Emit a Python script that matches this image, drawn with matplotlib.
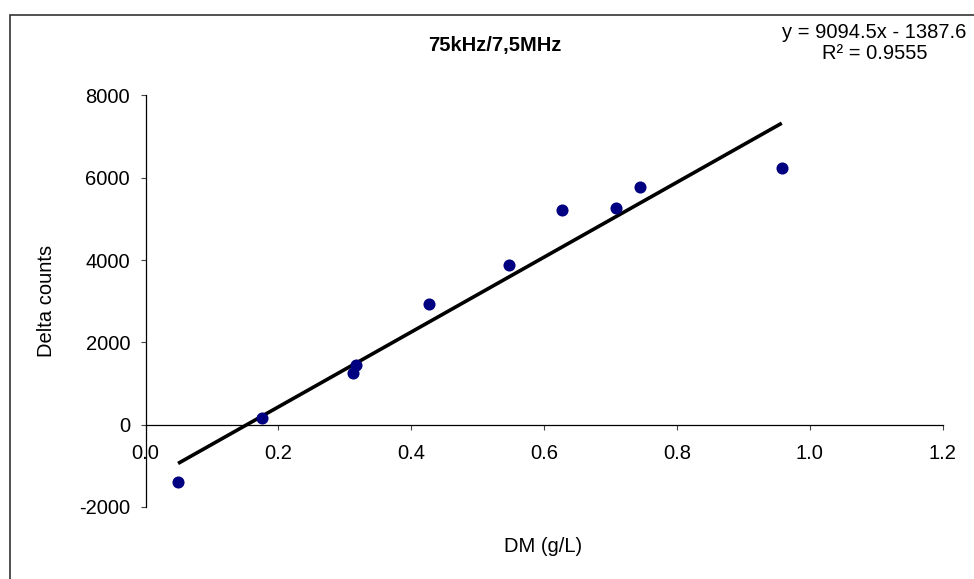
import matplotlib
matplotlib.use("Agg")
import matplotlib.pyplot as plt
from matplotlib.patches import Rectangle
from matplotlib.ticker import FixedLocator, FuncFormatter
import numpy as np

plt.rcParams['font.family'] = ['Liberation Sans', 'DejaVu Sans']
plt.rcParams['axes.unicode_minus'] = False

# Measurements: dry matter vs. change in counts
dm = [0.049, 0.176, 0.313, 0.317, 0.427, 0.547, 0.627, 0.709, 0.744, 0.958]
delta_counts = [-1400, 160, 1250, 1440, 2940, 3880, 5220, 5260, 5780, 6240]

# Linear trendline reported on the chart
slope = 9094.5
intercept = -1387.6
r_squared = 0.9555

x_ticks = [0.0, 0.2, 0.4, 0.6, 0.8, 1.0, 1.2]
y_ticks = [-2000, 0, 2000, 4000, 6000, 8000]

title = "75kHz/7,5MHz"
x_label = "DM (g/L)"
y_label = "Delta counts"

W, H = 974, 579
fig = plt.figure(figsize=(W / 100, H / 100), dpi=100)
fig.patch.set_facecolor("white")

# outer chart border (runs off the right and bottom edges)
fig.add_artist(Rectangle((10 / W, -0.05), 1.1, 1 - 15 / H + 0.05,
                         transform=fig.transFigure, fill=False,
                         edgecolor="#222222", linewidth=1.1))

left, right = 145.5 / W, 942.5 / W
bottom, top = (H - 507) / H, (H - 95.4) / H
ax = fig.add_axes([left, bottom, right - left, top - bottom])

ax.scatter(dm, delta_counts, s=8.7 ** 2, color="#000080", zorder=3,
           linewidths=0)

xfit = np.array([min(dm), max(dm)])
ax.plot(xfit, slope * xfit + intercept, color="black", lw=2.6, zorder=2,
        solid_capstyle="butt")

ax.set_xlim(0, 1.2)
ax.set_ylim(-2000, 8000)
ax.xaxis.set_major_locator(FixedLocator(x_ticks))
ax.yaxis.set_major_locator(FixedLocator(y_ticks))
ax.xaxis.set_major_formatter(FuncFormatter(lambda v, p: f"{v:.1f}"))
ax.yaxis.set_major_formatter(FuncFormatter(lambda v, p: f"{int(round(v))}"))

for s in ("top", "right"):
    ax.spines[s].set_visible(False)
ax.spines["bottom"].set_position(("data", 0))
for s in ("left", "bottom"):
    ax.spines[s].set_linewidth(0.9)
    ax.spines[s].set_color("black")

ax.tick_params(axis="x", direction="out", length=3.6, width=0.8,
               color="#444444", labelsize=14.5, pad=10)
ax.tick_params(axis="y", direction="out", length=3.6, width=0.8,
               color="#444444", labelsize=14.5, pad=7.5)

fig.text(495 / W, 1 - 45 / H, title, ha="center", va="center",
         fontsize=14.5, fontweight="bold")
fig.text(543.5 / W, 1 - 546.7 / H, x_label, ha="center", va="center",
         fontsize=14.5)
fig.text(46.7 / W, 1 - 301 / H, y_label, ha="center", va="center",
         rotation=90, fontsize=14.5)

fig.text(874.5 / W, 1 - 32.3 / H,
         f"y = {slope}x - {abs(intercept)}", ha="center", va="center",
         fontsize=14.5)
fig.text(874.5 / W, 1 - 53.3 / H, f"R² = {r_squared}",
         ha="center", va="center", fontsize=14.5)

fig.savefig("out.png", dpi=100)
